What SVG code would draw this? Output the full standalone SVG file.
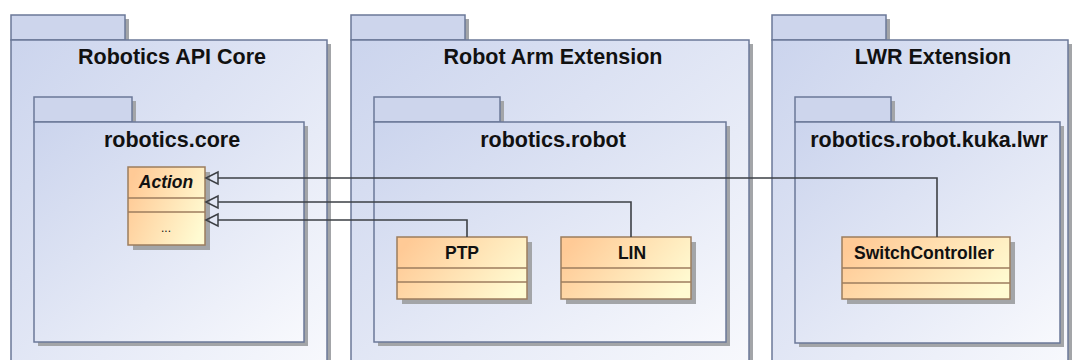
<svg xmlns="http://www.w3.org/2000/svg" width="1080" height="360" viewBox="0 0 1080 360">
  <defs>
    <linearGradient id="pkgFill" x1="0" y1="0" x2="1" y2="1">
      <stop offset="0" stop-color="#cbd4ed"/>
      <stop offset="1" stop-color="#f8f9fd"/>
    </linearGradient>
    <linearGradient id="clsFill" x1="0" y1="0.3" x2="1" y2="0.7">
      <stop offset="0" stop-color="#ffca96"/>
      <stop offset="1" stop-color="#fffbd2"/>
    </linearGradient>
    <style>
      .shadow { fill: #a3a5a8; }
      .tab { fill: #cdd5ec; stroke: #6b7898; stroke-width: 1.5; }
      .body { fill: url(#pkgFill); stroke: #6b7898; stroke-width: 1.5; }
      .cls { fill: url(#clsFill); stroke: #9c7d5e; stroke-width: 1.5; }
      .div { stroke: #9c7d5e; stroke-width: 1.5; }
      .ptitle { font-family: "Liberation Sans", Arial, sans-serif; font-weight: bold; font-size: 21.5px; fill: #111; text-anchor: middle; }
      .ctitle { font-family: "Liberation Sans", Arial, sans-serif; font-weight: bold; font-size: 17.5px; fill: #111; text-anchor: middle; }
      .dots { font-family: "Liberation Sans", Arial, sans-serif; font-size: 12px; fill: #111; text-anchor: middle; }
      .conn { fill: none; stroke: #3d4045; stroke-width: 1.6; }
      .head { fill: none; stroke: #3d4045; stroke-width: 1.5; stroke-linejoin: miter; }
    </style>
  </defs>

  <!-- Outer package: Robotics API Core -->
  <g id="pkg-robotics-api-core">
    <rect class="shadow" x="15" y="19" width="114" height="25"/>
    <rect class="shadow" x="15" y="44" width="316" height="330"/>
    <rect class="tab" x="11" y="15" width="114" height="25"/>
    <rect class="body" x="11" y="40" width="316" height="330"/>
    <text class="ptitle" x="172" y="64">Robotics API Core</text>
  </g>

  <!-- Outer package: Robot Arm Extension -->
  <g id="pkg-robot-arm-extension">
    <rect class="shadow" x="355" y="19" width="114" height="25"/>
    <rect class="shadow" x="355" y="44" width="398" height="330"/>
    <rect class="tab" x="351" y="15" width="114" height="25"/>
    <rect class="body" x="351" y="40" width="398" height="330"/>
    <text class="ptitle" x="553" y="64">Robot Arm Extension</text>
  </g>

  <!-- Outer package: LWR Extension -->
  <g id="pkg-lwr-extension">
    <rect class="shadow" x="776" y="19" width="114" height="25"/>
    <rect class="shadow" x="776" y="44" width="296" height="330"/>
    <rect class="tab" x="772" y="15" width="114" height="25"/>
    <rect class="body" x="772" y="40" width="296" height="330"/>
    <text class="ptitle" x="933" y="64">LWR Extension</text>
  </g>

  <!-- Inner package: robotics.core -->
  <g id="pkg-robotics-core">
    <rect class="shadow" x="38" y="101" width="98" height="25"/>
    <rect class="shadow" x="38" y="126" width="270" height="220"/>
    <rect class="tab" x="34" y="97" width="98" height="25"/>
    <rect class="body" x="34" y="122" width="270" height="220"/>
    <text class="ptitle" x="172" y="147">robotics.core</text>
  </g>

  <!-- Inner package: robotics.robot -->
  <g id="pkg-robotics-robot">
    <rect class="shadow" x="378" y="101" width="126" height="25"/>
    <rect class="shadow" x="378" y="126" width="352" height="220"/>
    <rect class="tab" x="374" y="97" width="126" height="25"/>
    <rect class="body" x="374" y="122" width="352" height="220"/>
    <text class="ptitle" x="553" y="147">robotics.robot</text>
  </g>

  <!-- Inner package: robotics.robot.kuka.lwr -->
  <g id="pkg-robotics-robot-kuka-lwr">
    <rect class="shadow" x="799" y="101" width="96" height="25"/>
    <rect class="shadow" x="799" y="126" width="265" height="221"/>
    <rect class="tab" x="795" y="97" width="96" height="25"/>
    <rect class="body" x="795" y="122" width="265" height="221"/>
    <text class="ptitle" x="929" y="147">robotics.robot.kuka.lwr</text>
  </g>

  <!-- Class: Action (abstract) -->
  <g id="cls-action">
    <rect class="shadow" x="133" y="172" width="77" height="78"/>
    <rect class="cls" x="128" y="167" width="77" height="78"/>
    <line class="div" x1="128" y1="198" x2="205" y2="198"/>
    <line class="div" x1="128" y1="212" x2="205" y2="212"/>
    <text class="ctitle" x="166" y="188" font-style="italic">Action</text>
    <text class="dots" x="166" y="232">...</text>
  </g>

  <!-- Class: PTP -->
  <g id="cls-ptp">
    <rect class="shadow" x="402" y="242" width="130" height="62"/>
    <rect class="cls" x="397" y="237" width="130" height="62"/>
    <line class="div" x1="397" y1="268" x2="527" y2="268"/>
    <line class="div" x1="397" y1="282" x2="527" y2="282"/>
    <text class="ctitle" x="462" y="259">PTP</text>
  </g>

  <!-- Class: LIN -->
  <g id="cls-lin">
    <rect class="shadow" x="566" y="242" width="130" height="62"/>
    <rect class="cls" x="561" y="237" width="130" height="62"/>
    <line class="div" x1="561" y1="268" x2="691" y2="268"/>
    <line class="div" x1="561" y1="282" x2="691" y2="282"/>
    <text class="ctitle" x="632" y="259">LIN</text>
  </g>

  <!-- Class: SwitchController -->
  <g id="cls-switchcontroller">
    <rect class="shadow" x="847" y="242" width="168" height="62"/>
    <rect class="cls" x="842" y="237" width="168" height="62"/>
    <line class="div" x1="842" y1="268" x2="1010" y2="268"/>
    <line class="div" x1="842" y1="283" x2="1010" y2="283"/>
    <text class="ctitle" x="924" y="259">SwitchController</text>
  </g>

  <!-- Generalization connectors -->
  <g id="connectors">
    <path class="conn" d="M937 237 V178 H218"/>
    <path class="conn" d="M631 237 V202 H218"/>
    <path class="conn" d="M467 237 V220 H218"/>
    <polygon class="head" points="206,178 218,172 218,184"/>
    <polygon class="head" points="206,202 218,196 218,208"/>
    <polygon class="head" points="206,220 218,214 218,226"/>
  </g>
</svg>
